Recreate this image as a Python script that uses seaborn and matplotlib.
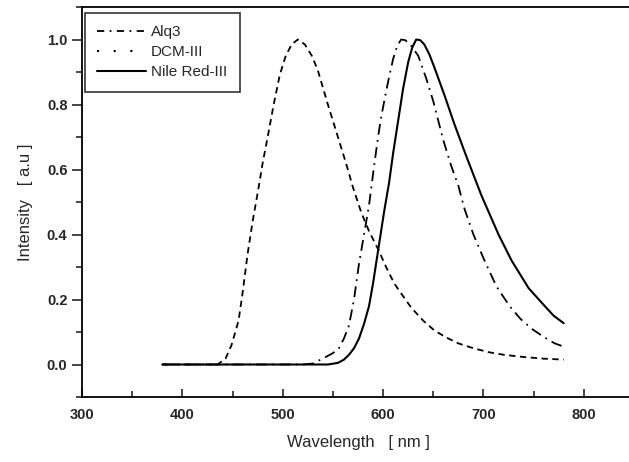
import pandas as pd
import seaborn as sns
import matplotlib.pyplot as plt
from matplotlib.lines import Line2D
from matplotlib.ticker import MultipleLocator

# Alq3 (dashed curve)
alq3_wl = [380, 400, 420, 435, 443, 449, 456, 460, 465, 470, 476, 480, 485, 491, 497, 503,
           509, 515, 522, 529, 535, 545, 555, 563, 570, 578, 586, 595, 603, 611, 620, 628,
           640, 651, 663, 675, 690, 705, 720, 740, 760, 780]
alq3_int = [0.0, 0.0, 0.0, 0.0, 0.018, 0.06, 0.135, 0.22, 0.34, 0.44, 0.545, 0.62, 0.70,
            0.80, 0.89, 0.95, 0.985, 1.0, 0.985, 0.95, 0.905, 0.80, 0.70, 0.62, 0.545, 0.47,
            0.41, 0.355, 0.30, 0.25, 0.21, 0.175, 0.135, 0.105, 0.083, 0.065, 0.05, 0.038,
            0.03, 0.023, 0.018, 0.015]

# DCM-III (dash-dot curve)
dcm_wl = [380, 450, 500, 520, 530, 541, 550, 556, 561, 566, 571, 576, 581, 586, 591, 595,
          598, 603, 606, 610, 614, 618, 622, 627, 635, 643, 650, 660, 668, 675, 681, 690,
          701, 713, 726, 737, 748, 760, 771, 780]
dcm_int = [0.0, 0.0, 0.0, 0.0, 0.003, 0.02, 0.035, 0.05, 0.08, 0.12, 0.2, 0.31, 0.40, 0.49,
           0.61, 0.70, 0.76, 0.84, 0.885, 0.94, 0.98, 1.0, 0.998, 0.985, 0.95, 0.88, 0.81,
           0.69, 0.61, 0.55, 0.48, 0.40, 0.32, 0.24, 0.18, 0.14, 0.11, 0.085, 0.065, 0.055]

# Nile Red-III (solid curve)
nile_wl = [380, 450, 500, 545, 555, 561, 566, 571, 576, 581, 586, 590, 593, 596, 601, 606,
           610, 613, 617, 620, 625, 629, 633, 637, 641, 646, 651, 661, 671, 683, 698, 715,
           728, 745, 761, 770, 780]
nile_int = [0.0, 0.0, 0.0, 0.0, 0.005, 0.015, 0.03, 0.05, 0.08, 0.125, 0.18, 0.25, 0.31,
            0.37, 0.47, 0.56, 0.65, 0.71, 0.79, 0.85, 0.93, 0.975, 1.0, 0.998, 0.985, 0.955,
            0.915, 0.83, 0.74, 0.64, 0.52, 0.40, 0.32, 0.235, 0.18, 0.15, 0.127]

labels = ["Alq3", "DCM-III", "Nile Red-III"]

sns.set_style("ticks")
plt.rcParams["font.family"] = ["Liberation Sans", "DejaVu Sans"]

fig = plt.figure(figsize=(6.29, 4.62), dpi=100)
ax = fig.add_axes([82 / 629, 65 / 462, 552 / 629, 390 / 462])

df_alq = pd.DataFrame({"wl": alq3_wl, "I": alq3_int})
df_dcm = pd.DataFrame({"wl": dcm_wl, "I": dcm_int})
df_nile = pd.DataFrame({"wl": nile_wl, "I": nile_int})

sns.lineplot(data=df_alq, x="wl", y="I", ax=ax, color="black", lw=1.3,
             linestyle=(0, (3.5, 2.5)))
sns.lineplot(data=df_dcm, x="wl", y="I", ax=ax, color="black", lw=1.3,
             linestyle=(0, (6, 3, 1, 3)))
sns.lineplot(data=df_nile, x="wl", y="I", ax=ax, color="black", lw=1.5)

ax.set_xlim(300, 850)
ax.set_ylim(-0.1, 1.1)
ax.xaxis.set_minor_locator(MultipleLocator(50))
ax.yaxis.set_minor_locator(MultipleLocator(0.1))
ax.set_xticks(range(300, 801, 100))
ax.set_yticks([0.0, 0.2, 0.4, 0.6, 0.8, 1.0])
ax.set_yticklabels(["0.0", "0.2", "0.4", "0.6", "0.8", "1.0"])

ax.tick_params(axis="x", which="both", direction="in", top=False, labelsize=10.5,
               width=1.2, pad=8)
ax.tick_params(axis="x", which="major", length=6)
ax.tick_params(axis="x", which="minor", length=4)
ax.tick_params(axis="y", which="both", direction="out", right=False, labelsize=10.5,
               width=1.2)
ax.tick_params(axis="y", which="major", length=7)
ax.tick_params(axis="y", which="minor", length=4)
for lab in ax.get_xticklabels() + ax.get_yticklabels():
    lab.set_fontweight("bold")

for sp in ax.spines.values():
    sp.set_color("black")
    sp.set_linewidth(1.3)

ax.set_xlabel("Wavelength   [ nm ]", fontsize=12, labelpad=9)
ax.set_ylabel("Intensity   [ a.u ]", fontsize=12, labelpad=10)

handles = [
    Line2D([], [], color="black", lw=1.3, linestyle=(0, (4, 3, 1, 3))),
    Line2D([], [], color="black", lw=1.5, linestyle=(0, (1, 7))),
    Line2D([], [], color="black", lw=1.5),
]
leg = ax.legend(handles, labels, loc="upper left", bbox_to_anchor=(0.005, 0.985),
                borderaxespad=0, fontsize=11, frameon=True, fancybox=False,
                handlelength=3.2, borderpad=0.8, labelspacing=0.4, handletextpad=0.35)
leg.get_frame().set_edgecolor("black")
leg.get_frame().set_linewidth(1.2)

fig.savefig("out.png", dpi=100)
